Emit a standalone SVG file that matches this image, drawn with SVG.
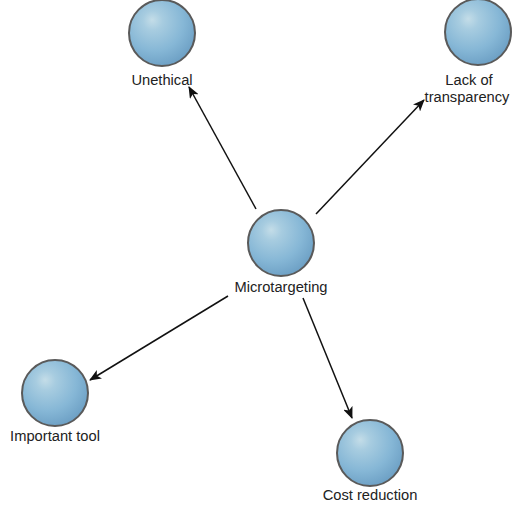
<svg xmlns="http://www.w3.org/2000/svg" width="513" height="507" viewBox="0 0 513 507">
<defs>
<radialGradient id="ball" cx="0.4" cy="0.35" r="0.68" fx="0.35" fy="0.3">
<stop offset="0" stop-color="#c4dde8"/>
<stop offset="0.22" stop-color="#a7cce0"/>
<stop offset="0.65" stop-color="#86b7d6"/>
<stop offset="1" stop-color="#6c9fc4"/>
</radialGradient>
<marker id="arr" viewBox="0 0 12 10" refX="11" refY="5" markerWidth="12" markerHeight="10" markerUnits="userSpaceOnUse" orient="auto">
<path d="M0,0 L12,5 L0,10 L3,5 Z" fill="#111"/>
</marker>
</defs>
<style>
.ball{fill:url(#ball);stroke:#5a5a5a;stroke-width:2}
.lbl{font-family:"Liberation Sans",Arial,sans-serif;font-size:14.7px;fill:#222;text-anchor:middle}
.edge{stroke:#111;stroke-width:1.5;fill:none;marker-end:url(#arr)}
</style>
<rect width="513" height="507" fill="#fff"/>
<g id="connectors">
<line class="edge" x1="256" y1="209" x2="189" y2="87"/>
<line class="edge" x1="316" y1="214" x2="424" y2="100"/>
<line class="edge" x1="228" y1="296" x2="90" y2="380"/>
<line class="edge" x1="303" y1="298" x2="352" y2="418"/>
</g>
<g id="microtargeting">
<circle class="ball" cx="281" cy="243" r="33"/>
<text class="lbl" x="281" y="292">Microtargeting</text>
</g>
<g id="unethical">
<circle class="ball" cx="162" cy="33" r="33"/>
<text class="lbl" x="162" y="85">Unethical</text>
</g>
<g id="lack-of-transparency">
<circle class="ball" cx="478" cy="32" r="33"/>
<text class="lbl" x="469" y="85">Lack of</text>
<text class="lbl" x="467" y="102">transparency</text>
</g>
<g id="important-tool">
<circle class="ball" cx="55" cy="393" r="33"/>
<text class="lbl" x="55" y="441">Important tool</text>
</g>
<g id="cost-reduction">
<circle class="ball" cx="370" cy="453" r="33"/>
<text class="lbl" x="370" y="500">Cost reduction</text>
</g>
</svg>
